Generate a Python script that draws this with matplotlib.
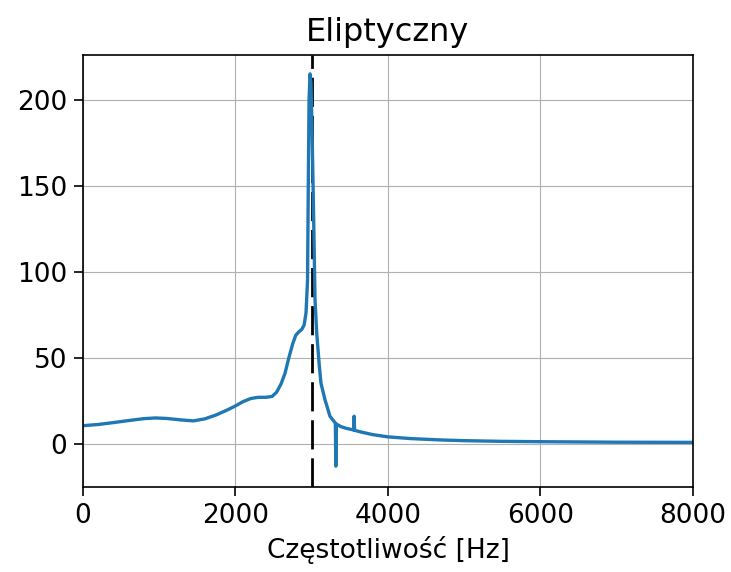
""" Opoznienie grupowe - filtr eliptyczny """
import matplotlib
matplotlib.use("Agg")
import matplotlib.pyplot as plt

freq = [0, 200, 400, 600, 800, 950, 1100, 1300, 1450, 1600, 1750, 1900,
        2000, 2100, 2200, 2300, 2400, 2480, 2540, 2600, 2650, 2700, 2750,
        2790, 2830, 2870, 2900, 2925, 2945, 2955, 2965, 2978, 2990, 3005,
        3020, 3035, 3043, 3065, 3100, 3122, 3174, 3239, 3310, 3316, 3322,
        3380, 3450, 3550, 3556, 3562, 3650, 3800, 4000, 4300, 4700, 5000,
        5500, 6000, 7000, 8000]
delay = [10.5, 11.2, 12.3, 13.5, 14.6, 15.0, 14.7, 13.8, 13.3, 14.5, 16.8,
         19.8, 22.0, 24.5, 26.3, 27.0, 27.0, 27.5, 30.0, 35.0, 41.0, 50.0,
         58.0, 63.0, 65.0, 66.5, 69.0, 76.0, 95.0, 150.0, 200.0, 215.0,
         210.0, 180.0, 145.0, 105.0, 84.0, 64.5, 45.0, 35.0, 25.6, 16.0,
         12.0, -13.0, 11.5, 10.0, 9.0, 8.0, 16.0, 7.8, 6.8, 5.3, 4.0, 3.0,
         2.2, 1.8, 1.4, 1.2, 0.9, 0.8]
f_cut = 3000


def main():
    """Rysuje wykres"""
    fig = plt.figure(figsize=(7.31, 5.72), dpi=100)
    ax = fig.add_axes([0.1135, 0.149, 0.8345, 0.755])
    ax.axvline(f_cut, color="black", lw=2, linestyle=(0, (10.5, 3.2)))
    ax.plot(freq, delay, color="#1f77b4", lw=2.4, zorder=3)
    ax.set_xlim(0, 8000)
    ax.set_ylim(-25, 226)
    ax.set_xticks([0, 2000, 4000, 6000, 8000])
    ax.set_yticks([0, 50, 100, 150, 200])
    ax.grid(True)
    ax.tick_params(labelsize=19, width=1.2, length=6.5, pad=5)
    for sp in ax.spines.values():
        sp.set_linewidth(1.2)
        sp.set_zorder(4)
    ax.set_title("Eliptyczny", fontsize=23, pad=10)
    ax.set_xlabel("Częstotliwość [Hz]", fontsize=19, labelpad=5)
    fig.savefig("out.png")


main()
